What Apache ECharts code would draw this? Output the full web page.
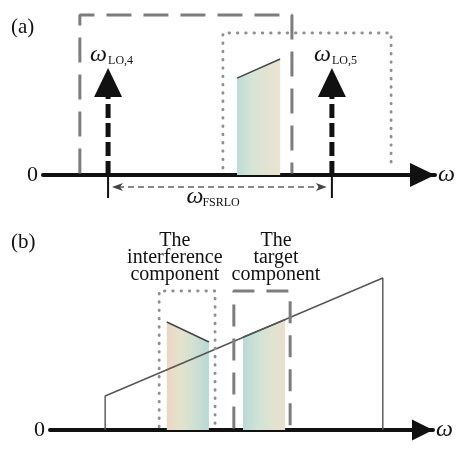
<!DOCTYPE html>
<html><head><meta charset="utf-8">
<script src="https://cdn.jsdelivr.net/npm/echarts@6/dist/echarts.min.js"></script>
<style>html,body{margin:0;padding:0;background:#fff}#c{width:456px;height:449px}</style>
</head><body><div id="c"></div>
<script>
// ---------- Panel (a): abstract frequency units along the axis (0-100), amplitude units ----------
const loFreqA = [16.6, 73.7];          // ω_LO,4 and ω_LO,5
const loLabelsA = ['LO,4', 'LO,5'];
const loStemTopA = 48.75;              // top of dashed stem
const loHeadTopA = 66.9;               // apex of arrow head
const loTickA = [7.5, -14.4];          // small vertical tick through axis
const bandXA = [49.5, 60.5];           // spectrum band edges
const bandTopA = [60.6, 72.5];         // band top at each edge
const dashedBoxA = [[9.4, 1], [9.4, 100], [63.5, 100], [63.5, 1]];
const dottedBoxA = [[45.9, 4.4], [45.9, 88.75], [88.8, 88.75], [88.8, 4.4]];
const fsrSpanA = [17.6, 72.4];
const fsrLevelA = -7.5;
const fsrLabelA = 'FSRLO';

// ---------- Panel (b) ----------
const trapB = [[14.4, 0], [14.4, 21.25], [86.9, 95], [86.9, 0]];
const interfXB = [30.5, 41.5];
const interfTopB = [67.5, 55];
const interfLineB = [[30.5, 37.5], [41.5, 48.75]];  // part of sloped line seen through band
const targetXB = [50.4, 61.4];
const targetTopB = [58, 69];
const dottedBoxB = [[28.5, 2], [28.5, 86.9], [43.1, 86.9], [43.1, 2]];
const dashedBoxB = [[48.0, 1], [48.0, 86.9], [62.7, 86.9], [62.7, 1]];
const textsB = [
  ['The\ninterference\ncomponent', 32.6, 107.5],
  ['The\ntarget\ncomponent', 59, 107.5]
];

const FONT = '"Liberation Serif", "Times New Roman", serif';

function txt(x, y, text, size, italic, align) {
  return { type: 'text', x: x, y: y, style: {
    text: text, fontSize: size, fontFamily: FONT, fontStyle: italic ? 'italic' : 'normal',
    fill: '#111', align: align || 'left', verticalAlign: 'middle', lineHeight: 17 } };
}
function grad(stops) {
  return { type: 'linear', x: 0, y: 0, x2: 1, y2: 0, colorStops: stops.map((c, i) => ({ offset: i / (stops.length - 1), color: c })) };
}
function bandShape(api, xs, tops, stops) {
  const p0 = api.coord([xs[0], 0]), p1 = api.coord([xs[0], tops[0]]);
  const p2 = api.coord([xs[1], tops[1]]), p3 = api.coord([xs[1], 0]);
  return { type: 'group', children: [
    { type: 'polygon', shape: { points: [p0, p1, p2, p3] }, style: { fill: grad(stops) } },
    { type: 'polyline', shape: { points: [p1, p2] }, style: { stroke: '#444', lineWidth: 1.4, fill: null } }
  ] };
}

const axisCommon = (idx, size, gapName, pad) => ({
  type: 'value', gridIndex: idx, min: 0, max: 100,
  axisLine: { onZero: true, lineStyle: { color: '#111', width: 4 }, symbol: ['none', 'triangle'], symbolSize: size, symbolOffset: [0, -size[1] / 2] },
  axisTick: { show: false }, axisLabel: { show: false }, splitLine: { show: false },
  name: 'ω', nameLocation: 'end', nameGap: gapName,
  nameTextStyle: { fontFamily: FONT, fontStyle: 'italic', fontSize: 24, color: '#111', verticalAlign: 'middle', padding: pad }
});
const yCommon = (idx, min, max) => ({
  type: 'value', gridIndex: idx, min: min, max: max, interval: 10,
  axisLine: { show: false }, axisTick: { show: false }, splitLine: { show: false },
  axisLabel: { margin: 5, fontFamily: FONT, fontSize: 22, color: '#111', formatter: v => v === 0 ? '0' : '' }
});

const lineS = (xi, data, color, width, type, cap) => ({
  type: 'line', xAxisIndex: xi, yAxisIndex: xi, data: data, symbol: 'none', silent: true, animation: false,
  lineStyle: { color: color, width: width, type: type, cap: cap || 'butt' }, clip: false
});

const option = {
  animation: false,
  title: [
    { text: '(a)', left: 6, top: 12, textStyle: { fontFamily: FONT, fontWeight: 'normal', fontSize: 21, color: '#111' } },
    { text: '(b)', left: 6, top: 227, textStyle: { fontFamily: FONT, fontWeight: 'normal', fontSize: 21, color: '#111' } }
  ],
  grid: [
    { left: 43, top: 15, width: 392, height: 208 },
    { left: 50, top: 222, width: 383, height: 224 }
  ],
  xAxis: [axisCommon(0, [24, 25], 3, [8, 0, 0, 0]), axisCommon(1, [21, 21], 3, [12, 0, 0, 0])],
  yAxis: [yCommon(0, -30, 100), yCommon(1, -10, 130)],
  series: [
    // ---- panel (a)
    {
      type: 'custom', xAxisIndex: 0, yAxisIndex: 0, data: [0], silent: true,
      renderItem: (p, api) => bandShape(api, bandXA, bandTopA, ['#bcdcd6', '#d6e4d6', '#e2e3d2', '#ebe2d2'])
    },
    lineS(0, dashedBoxA, '#7d7d7d', 3, [25, 12]),
    lineS(0, dottedBoxA, '#8f8f8f', 2.9, [0.5, 7.8], 'round'),
    {
      type: 'custom', xAxisIndex: 0, yAxisIndex: 0, data: loFreqA.map((f, i) => [f, i]), silent: true,
      renderItem: (p, api) => {
        const f = api.value(0), i = api.value(1);
        const b = api.coord([f, 0]), s = api.coord([f, loStemTopA]), h = api.coord([f, loHeadTopA]);
        const t1 = api.coord([f, loTickA[0]]), t2 = api.coord([f, loTickA[1]]);
        return { type: 'group', children: [
          { type: 'line', shape: { x1: t1[0], y1: t1[1], x2: t2[0], y2: t2[1] }, style: { stroke: '#111', lineWidth: 2 } },
          { type: 'line', shape: { x1: b[0], y1: b[1], x2: s[0], y2: s[1] }, style: { stroke: '#111', lineWidth: 5, lineDash: [14, 5] } },
          { type: 'polygon', shape: { points: [[s[0] - 14, s[1]], [s[0] + 14, s[1]], [h[0], h[1]]] }, style: { fill: '#111' } },
          txt(h[0] - 18, h[1] - 13, 'ω', 24, true),
          txt(h[0] + 0, h[1] - 7, loLabelsA[i], 12, false)
        ] };
      }
    },
    {
      type: 'custom', xAxisIndex: 0, yAxisIndex: 0, data: [0], silent: true,
      renderItem: (p, api) => {
        const a = api.coord([fsrSpanA[0], fsrLevelA]), b = api.coord([fsrSpanA[1], fsrLevelA]);
        const m = [(a[0] + b[0]) / 2, a[1]];
        return { type: 'group', children: [
          { type: 'line', shape: { x1: a[0] + 6, y1: a[1], x2: b[0] - 6, y2: b[1] }, style: { stroke: '#888', lineWidth: 2, lineDash: [6, 4] } },
          { type: 'polygon', shape: { points: [[a[0], a[1]], [a[0] + 11, a[1] - 4], [a[0] + 8, a[1]], [a[0] + 11, a[1] + 4]] }, style: { fill: '#444' } },
          { type: 'polygon', shape: { points: [[b[0], b[1]], [b[0] - 11, b[1] - 4], [b[0] - 8, b[1]], [b[0] - 11, b[1] + 4]] }, style: { fill: '#444' } },
          txt(m[0] - 33, m[1] + 10, 'ω', 24, true),
          txt(m[0] - 17, m[1] + 16, fsrLabelA, 12, false)
        ] };
      }
    },
    // ---- panel (b)
    {
      type: 'custom', xAxisIndex: 1, yAxisIndex: 1, data: [0], silent: true,
      renderItem: (p, api) => bandShape(api, targetXB, targetTopB, ['#b9dad5', '#cfe2d8', '#dfe3d2', '#e8e0cc'])
    },
    lineS(1, trapB, '#555', 1.4, 'solid'),
    {
      type: 'custom', xAxisIndex: 1, yAxisIndex: 1, data: [0], silent: true,
      renderItem: (p, api) => bandShape(api, interfXB, interfTopB, ['#ecd6c4', '#e4e3cc', '#cfe0d4', '#b6d8d5'])
    },
    lineS(1, interfLineB, '#666', 1.2, [1.5, 2]),
    lineS(1, dottedBoxB, '#8f8f8f', 2.9, [0.5, 7.8], 'round'),
    lineS(1, dashedBoxB, '#7d7d7d', 3, [22, 12]),
    {
      type: 'custom', xAxisIndex: 1, yAxisIndex: 1, data: textsB.map(t => [t[1], t[2]]), silent: true,
      renderItem: (p, api) => {
        const c = api.coord([api.value(0), api.value(1)]);
        return txt(c[0], c[1], textsB[p.dataIndex][0], 20, false, 'center');
      }
    }
  ]
};
const chart = echarts.init(document.getElementById('c'), null, { renderer: 'canvas' });
chart.setOption(option);
</script>
</body></html>
